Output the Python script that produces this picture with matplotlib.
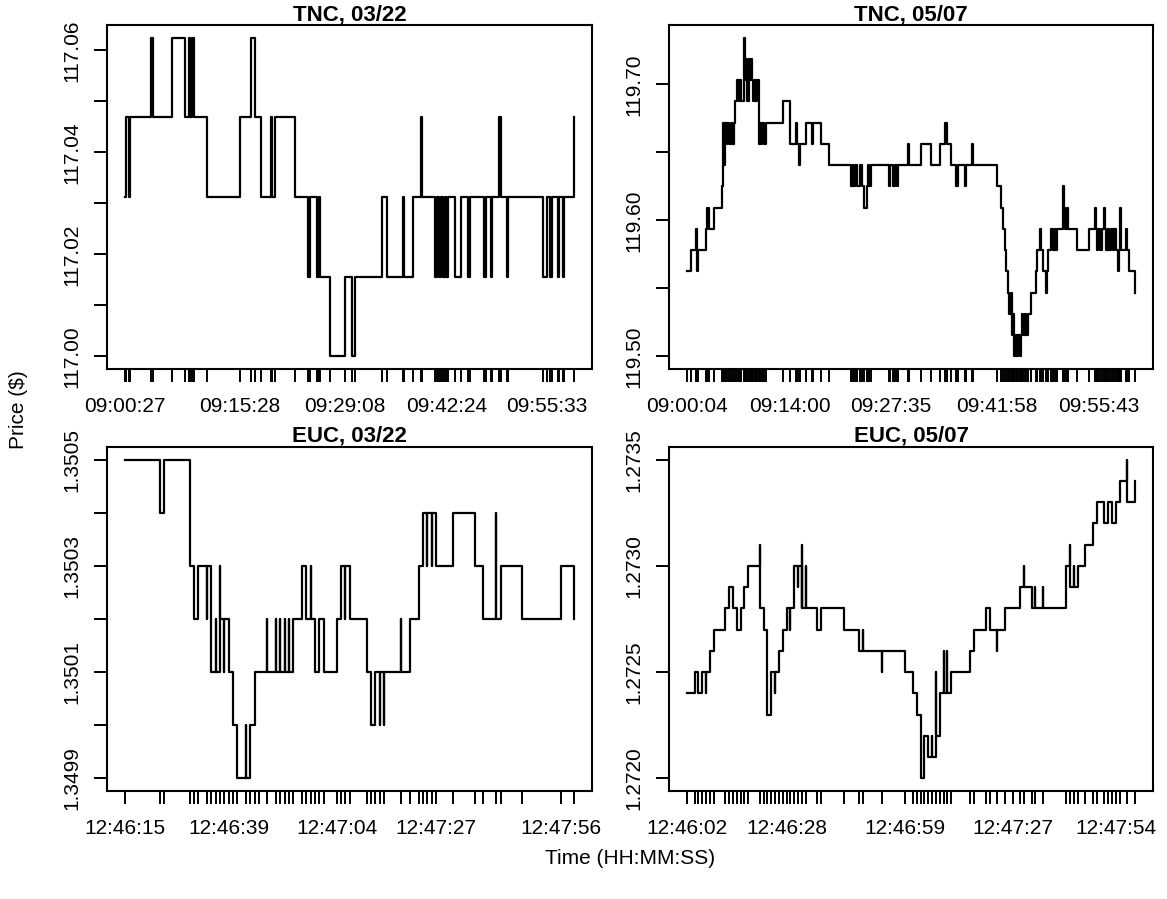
import numpy as np
import matplotlib
matplotlib.use("Agg")
import matplotlib.pyplot as plt

plt.rcParams['font.family'] = ['Liberation Sans', 'DejaVu Sans']

# ---- TNC 03/22 : seconds after first trade, price in 64ths above 117
tnc0322_start = "09:00:27"
tnc0322_sec = [0, 9, 30, 42, 201, 216, 372, 471, 501, 513,
               525, 537, 642, 901, 990, 1020, 1065, 1140, 1152, 1176,
               1335, 1431, 1446, 1506, 1518, 1530, 1602, 1721, 1776, 1800,
               2016, 2055, 2175, 2184, 2256, 2316, 2325, 2427, 2445, 2460,
               2472, 2487, 2502, 2517, 2532, 2586, 2631, 2682, 2700, 2811,
               2826, 2865, 2877, 2931, 2946, 2991, 3000, 3276, 3306, 3327,
               3342, 3390, 3402, 3426, 3438, 3516]
tnc0322_64ths = [2, 3, 2, 3, 4, 3, 4, 3, 4, 3,
                 4, 3, 2, 3, 4, 3, 2, 3, 2, 3,
                 2, 1, 2, 1, 2, 1, 0, 1, 0, 1,
                 2, 1, 2, 1, 2, 3, 2, 1, 2, 1,
                 2, 1, 2, 1, 2, 1, 2, 1, 2, 1,
                 2, 1, 2, 3, 2, 1, 2, 1, 2, 1,
                 2, 1, 2, 1, 2, 3]
tnc0322_labels = ["09:00:27", "09:15:28", "09:29:08", "09:42:24", "09:55:33"]

# ---- TNC 05/07 : price in 64ths above 119.5
tnc0507_start = "09:00:04"
tnc0507_sec = [0, 32, 73, 81, 89, 154, 165, 176, 221, 284,
               289, 300, 308, 319, 329, 340, 354, 367, 378, 394,
               410, 419, 429, 440, 464, 473, 481, 489, 500, 510,
               521, 529, 540, 551, 564, 572, 581, 591, 602, 613,
               629, 640, 780, 836, 883, 896, 910, 918, 964, 1018,
               1026, 1085, 1153, 1328, 1339, 1350, 1364, 1382, 1401, 1423,
               1436, 1458, 1469, 1480, 1493, 1639, 1651, 1671, 1688, 1704,
               1712, 1796, 1806, 1898, 1982, 2057, 2098, 2109, 2147, 2187,
               2201, 2255, 2268, 2317, 2325, 2514, 2552, 2565, 2579, 2592,
               2606, 2616, 2627, 2638, 2649, 2657, 2668, 2678, 2689, 2700,
               2708, 2719, 2730, 2741, 2754, 2768, 2795, 2835, 2843, 2862,
               2870, 2889, 2911, 2919, 2930, 2957, 2970, 2984, 2997, 3005,
               3051, 3059, 3070, 3081, 3094, 3167, 3267, 3308, 3316, 3326,
               3339, 3353, 3367, 3383, 3391, 3402, 3416, 3429, 3445, 3456,
               3470, 3483, 3497, 3505, 3515, 3524, 3564, 3572, 3591, 3637]
tnc0507_64ths = [4, 5, 6, 4, 5, 6, 7, 6, 7, 8,
                 11, 9, 11, 10, 11, 10, 11, 10, 11, 12,
                 13, 12, 13, 12, 15, 13, 14, 12, 14, 13,
                 14, 13, 12, 13, 12, 13, 10, 11, 10, 11,
                 10, 11, 12, 10, 11, 10, 9, 10, 11, 10,
                 11, 10, 9, 8, 9, 8, 9, 8, 9, 8,
                 7, 8, 9, 8, 9, 8, 9, 8, 9, 8,
                 9, 10, 9, 10, 9, 10, 11, 10, 9, 8,
                 9, 8, 9, 10, 9, 8, 7, 6, 5, 4,
                 3, 2, 3, 1, 2, 0, 1, 0, 1, 0,
                 1, 2, 1, 2, 1, 2, 3, 4, 5, 6,
                 5, 4, 3, 4, 5, 6, 5, 6, 5, 6,
                 8, 7, 6, 7, 6, 5, 6, 7, 6, 5,
                 6, 5, 6, 7, 6, 5, 6, 5, 6, 5,
                 6, 5, 4, 5, 7, 5, 6, 5, 4, 3]
tnc0507_labels = ["09:00:04", "09:14:00", "09:27:35", "09:41:58", "09:55:43"]

# ---- EUC 03/22
euc0322_start = "12:46:15"
euc0322_sec = [0, 8, 9, 15, 16, 17, 19, 19, 20, 20,
               21, 21, 22, 22, 23, 23, 24, 25, 26, 28,
               28, 29, 30, 31, 33, 33, 35, 35, 36, 36,
               37, 37, 38, 38, 39, 41, 42, 43, 43, 44,
               45, 46, 49, 50, 51, 51, 52, 56, 57, 58,
               59, 59, 60, 60, 64, 64, 66, 68, 69, 70,
               70, 71, 71, 72, 76, 81, 83, 86, 86, 87,
               92, 101, 104]
euc0322_px = [1.3505, 1.3504, 1.3505, 1.3503, 1.3502, 1.3503, 1.3502, 1.3503, 1.3502, 1.3501,
              1.3502, 1.3501, 1.3503, 1.3502, 1.3501, 1.3502, 1.3501, 1.3500, 1.3499, 1.3500,
              1.3499, 1.3500, 1.3501, 1.3501, 1.3502, 1.3501, 1.3502, 1.3501, 1.3502, 1.3501,
              1.3502, 1.3501, 1.3502, 1.3501, 1.3502, 1.3503, 1.3502, 1.3503, 1.3502, 1.3501,
              1.3502, 1.3501, 1.3502, 1.3503, 1.3502, 1.3503, 1.3502, 1.3501, 1.3500, 1.3501,
              1.3500, 1.3501, 1.3500, 1.3501, 1.3502, 1.3501, 1.3502, 1.3503, 1.3504, 1.3503,
              1.3504, 1.3503, 1.3504, 1.3503, 1.3504, 1.3503, 1.3502, 1.3504, 1.3502, 1.3503,
              1.3502, 1.3503, 1.3502]
euc0322_labels = ["12:46:15", "12:46:39", "12:47:04", "12:47:27", "12:47:56"]

# ---- EUC 05/07
euc0507_start = "12:46:02"
euc0507_sec = [0, 2, 3, 4, 5, 5, 6, 7, 10, 11,
               11, 11, 12, 13, 14, 14, 14, 15, 16, 19,
               19, 19, 20, 21, 21, 21, 21, 21, 22, 22,
               23, 23, 24, 25, 26, 27, 27, 28, 28, 29,
               29, 30, 30, 30, 31, 31, 34, 35, 41, 45,
               46, 46, 51, 51, 57, 59, 60, 61, 61, 62,
               62, 63, 64, 64, 65, 65, 66, 67, 67, 68,
               68, 69, 74, 75, 78, 79, 81, 81, 83, 85,
               87, 88, 88, 90, 91, 91, 93, 93, 99, 100,
               100, 101, 101, 102, 104, 106, 107, 109, 110, 111,
               112, 113, 115, 115, 117]
euc0507_px = [1.2724, 1.2725, 1.2724, 1.2725, 1.2724, 1.2725, 1.2726, 1.2727, 1.2728, 1.2729,
              1.2728, 1.2729, 1.2728, 1.2727, 1.2728, 1.2727, 1.2728, 1.2729, 1.2730, 1.2731,
              1.2730, 1.2728, 1.2727, 1.2726, 1.2725, 1.2724, 1.2725, 1.2723, 1.2724, 1.2725,
              1.2724, 1.2725, 1.2726, 1.2727, 1.2728, 1.2727, 1.2728, 1.2729, 1.2730, 1.2729,
              1.2730, 1.2728, 1.2731, 1.2728, 1.2730, 1.2728, 1.2727, 1.2728, 1.2727, 1.2726,
              1.2727, 1.2726, 1.2725, 1.2726, 1.2725, 1.2724, 1.2723, 1.2722, 1.2720, 1.2721,
              1.2722, 1.2721, 1.2722, 1.2721, 1.2725, 1.2722, 1.2724, 1.2726, 1.2724, 1.2726,
              1.2724, 1.2725, 1.2726, 1.2727, 1.2728, 1.2727, 1.2726, 1.2727, 1.2728, 1.2728,
              1.2729, 1.2730, 1.2729, 1.2728, 1.2729, 1.2728, 1.2729, 1.2728, 1.2730, 1.2731,
              1.2729, 1.2730, 1.2729, 1.2730, 1.2731, 1.2732, 1.2733, 1.2732, 1.2733, 1.2732,
              1.2733, 1.2734, 1.2735, 1.2733, 1.2734]
euc0507_labels = ["12:46:02", "12:46:28", "12:46:59", "12:47:27", "12:47:54"]


def hms(s):
    h, m, sec = (int(v) for v in s.split(":"))
    return 3600 * h + 60 * m + sec


def pad4(lo, hi):
    d = (hi - lo) * 0.04
    return lo - d, hi + d


def draw(ax, start, sec, price, labels, yt, ytl, title):
    sec = np.asarray(sec, float)
    price = np.asarray(price, float)
    ax.plot(sec, price, drawstyle='steps-post', color='black', lw=1.6)
    # one tick per trade, labelled at a handful of trades
    t0 = hms(start)
    lab = {hms(l) - t0: l for l in labels}
    xt = sorted(set(sec.tolist()))
    ax.set_xticks(xt)
    ax.set_xticklabels([lab.get(int(x), "") for x in xt])
    ax.set_xlim(*pad4(sec.min(), sec.max()))
    ax.set_ylim(*pad4(price.min(), price.max()))
    ax.set_yticks(yt)
    ax.set_yticklabels(ytl, rotation=90, va='center')
    ax.tick_params(axis='both', direction='out', length=9.7, width=1.4,
                   labelsize=15, color='black')
    ax.tick_params(axis='x', pad=10.5)
    ax.tick_params(axis='y', pad=8.5)
    for s in ax.spines.values():
        s.set_linewidth(1.5)
    ax.set_title(title, fontsize=16, fontweight='bold', pad=2)


fig = plt.figure(figsize=(11.67, 8.99), dpi=100)
W, H = 1167.0, 899.0
cols = [(107, 592), (669, 1153)]
rows = [(25, 369), (447, 791)]


def box(c, r):
    x0, x1 = cols[c]
    y0, y1 = rows[r]
    return [x0 / W, 1 - y1 / H, (x1 - x0) / W, (y1 - y0) / H]


ax = fig.add_axes(box(0, 0))
tnc0322_px = 117 + np.array(tnc0322_64ths) / 64.0
yt = [117.00, 117.01, 117.02, 117.03, 117.04, 117.05, 117.06]
draw(ax, tnc0322_start, tnc0322_sec, tnc0322_px, tnc0322_labels, yt,
     ["117.00", "", "117.02", "", "117.04", "", "117.06"], "TNC, 03/22")

ax = fig.add_axes(box(1, 0))
tnc0507_px = 119.5 + np.array(tnc0507_64ths) / 64.0
yt = [119.50, 119.55, 119.60, 119.65, 119.70]
draw(ax, tnc0507_start, tnc0507_sec, tnc0507_px, tnc0507_labels, yt,
     ["119.50", "", "119.60", "", "119.70"], "TNC, 05/07")

ax = fig.add_axes(box(0, 1))
yt = [1.3499, 1.3500, 1.3501, 1.3502, 1.3503, 1.3504, 1.3505]
draw(ax, euc0322_start, euc0322_sec, euc0322_px, euc0322_labels, yt,
     ["1.3499", "", "1.3501", "", "1.3503", "", "1.3505"], "EUC, 03/22")

ax = fig.add_axes(box(1, 1))
yt = [1.2720, 1.2725, 1.2730, 1.2735]
draw(ax, euc0507_start, euc0507_sec, euc0507_px, euc0507_labels, yt,
     ["1.2720", "1.2725", "1.2730", "1.2735"], "EUC, 05/07")

fig.text(630 / W, 1 - 858 / H, "Time (HH:MM:SS)", ha='center', va='center', fontsize=15)
fig.text(18 / W, 1 - 410 / H, "Price ($)", ha='center', va='center', rotation=90, fontsize=15)

fig.savefig("out.png", dpi=100)
